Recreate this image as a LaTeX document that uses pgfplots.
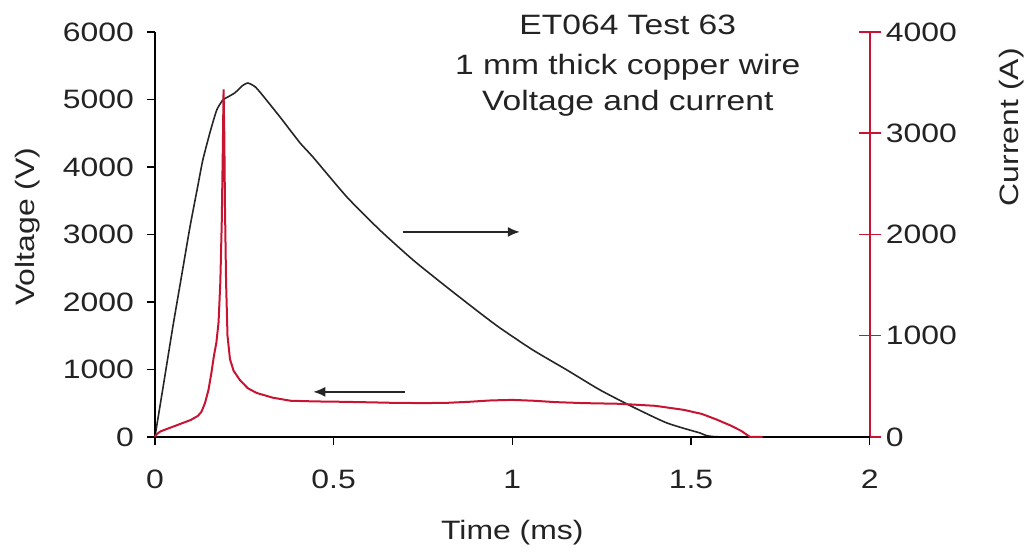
\documentclass[border=0pt]{standalone}
\usepackage{fontspec}
\setmainfont{Liberation Sans}[FakeStretch=1.2]
\usepackage{pgfplots}
\pgfplotsset{compat=1.18}
\usetikzlibrary{arrows.meta}
\definecolor{vred}{RGB}{200,20,50}
\definecolor{txt}{RGB}{35,35,35}
\newcommand\tf{\fontsize{13.3}{15}\selectfont}
\newcommand\ttl{\fontsize{14}{17}\selectfont}

\begin{document}
\begin{tikzpicture}
% current axis (right)
\begin{axis}[
  scale only axis, width=357.5pt, height=202.5pt,
  xmin=0, xmax=2, ymin=0, ymax=4000,
  axis x line=none, axis y line*=right,
  ytick={0,1000,2000,3000,4000},
  tick align=center, major tick length=11pt,
  axis line style={vred, line width=0.8pt},
  y tick style={vred, line width=0.8pt},
  /pgf/number format/assume math mode=true,
  /pgf/number format/1000 sep={},
  scaled y ticks=false,
  yticklabel style={font=\tf, text=txt, xshift=-1pt},
  clip=false,
]
\addplot[black!85, line width=0.8pt, smooth, tension=0.35] coordinates {
(0,0) (0.025,540) (0.05,1086) (0.075,1600) (0.098,2074) (0.12,2480)
(0.134,2736) (0.155,3020) (0.173,3230) (0.19,3328) (0.205,3360)
(0.224,3400) (0.245,3470) (0.26,3496) (0.28,3460) (0.30,3380)
(0.35,3160) (0.406,2904) (0.442,2765) (0.537,2370) (0.629,2044)
(0.722,1748) (0.816,1481) (0.909,1225) (0.965,1077) (1.057,859)
(1.152,662) (1.245,464) (1.337,296) (1.432,138) (1.524,40) (1.58,0) (2,0)
};
\node[font=\tf, text=txt, rotate=90, anchor=center] at (rel axis cs:1.199,0.765) {Current (A)};
\end{axis}
% voltage axis (left)
\begin{axis}[
  scale only axis, width=357.5pt, height=202.5pt,
  xmin=0, xmax=2, ymin=0, ymax=6000,
  axis x line*=bottom, axis y line*=left,
  xtick={0,0.5,1,1.5,2}, xticklabels={0,0.5,1,1.5,2},
  ytick={0,1000,2000,3000,4000,5000,6000},
  tick align=outside, major tick length=4pt,
  tick style={black, line width=0.7pt},
  axis line style={black, line width=0.8pt},
  /pgf/number format/assume math mode=true,
  /pgf/number format/1000 sep={},
  scaled y ticks=false,
  yticklabel style={font=\tf, text=txt, xshift=-3pt},
  xticklabel style={font=\tf, text=txt, yshift=-9pt},
  clip=false,
]
\addplot[vred, line width=1pt] coordinates {
(0,0) (0.005,40) (0.015,80) (0.03,110) (0.05,150) (0.075,200) (0.10,250)
(0.12,310) (0.13,370) (0.14,500) (0.15,700) (0.158,950) (0.165,1200)
(0.172,1400) (0.178,1700) (0.183,2300) (0.187,3200) (0.190,4300)
(0.192,5150) (0.194,4500) (0.196,3400) (0.199,2300) (0.203,1500)
(0.21,1150) (0.22,980) (0.238,840) (0.26,720) (0.285,650) (0.33,580)
(0.38,535) (0.45,525) (0.52,520) (0.6,512) (0.66,505) (0.75,500)
(0.82,505) (0.88,520) (0.94,540) (1.0,548) (1.06,535) (1.12,515)
(1.2,500) (1.3,490) (1.4,460) (1.48,400) (1.53,340) (1.57,260)
(1.61,170) (1.64,90) (1.665,0) (1.7,0)
};
\draw[-{Latex[length=6pt,width=5pt]}, line width=0.8pt, black!85]
  (axis cs:0.694,3037) -- (axis cs:1.021,3037);
\draw[-{Latex[length=6pt,width=5pt]}, line width=0.8pt, black!85]
  (axis cs:0.699,667) -- (axis cs:0.443,667);
\node[font=\tf, text=txt, rotate=90, anchor=center] at (rel axis cs:-0.178,0.519) {Voltage (V)};
\node[font=\tf, text=txt, anchor=base] at (rel axis cs:0.5,-0.254) {Time (ms)};
\node[font=\ttl, text=txt, anchor=base] at (rel axis cs:0.6615,0.995) {ET064 Test 63};
\node[font=\ttl, text=txt, anchor=base] at (rel axis cs:0.6615,0.894) {1 mm thick copper wire};
\node[font=\ttl, text=txt, anchor=base] at (rel axis cs:0.6615,0.807) {Voltage and current};
\end{axis}
\path[use as bounding box] (-77.5pt,-57.5pt) rectangle (438pt,218.5pt);
\end{tikzpicture}
\end{document}
